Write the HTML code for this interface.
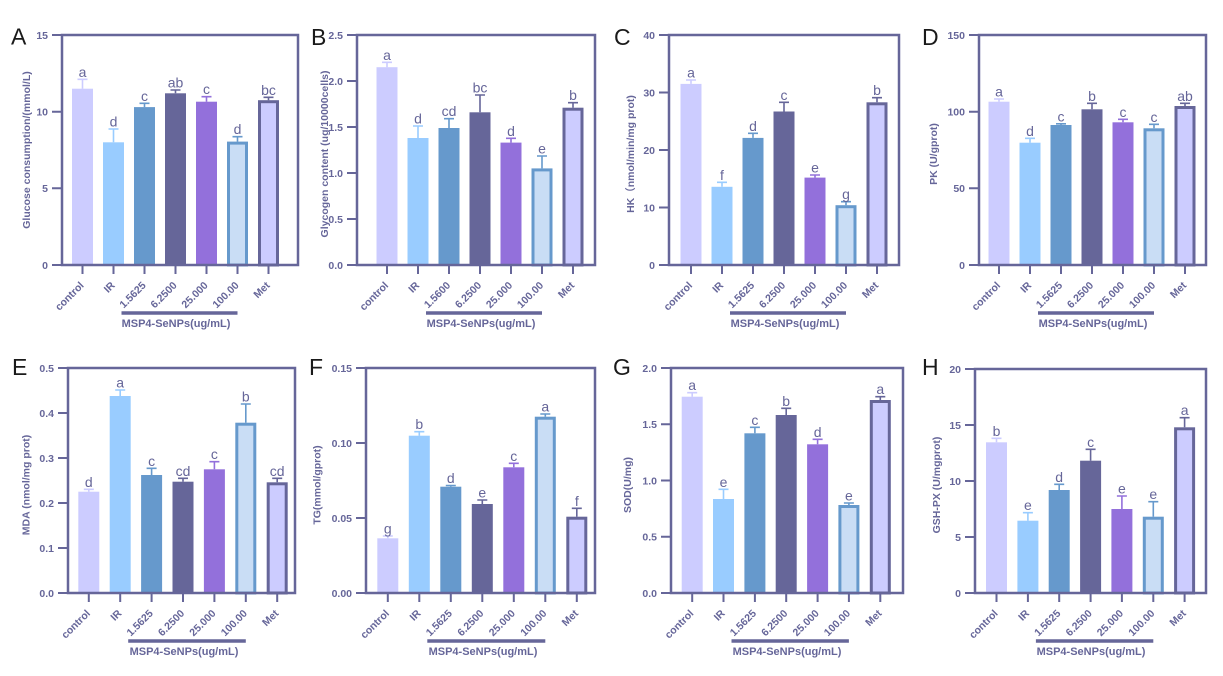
<!DOCTYPE html>
<html><head><meta charset="utf-8"><style>
html,body{margin:0;padding:0;background:#fff}
svg{display:block}
svg text{font-family:"Liberation Sans","Noto Sans CJK SC",Arial,sans-serif}
.ax{fill:none;stroke:#666699;stroke-width:2.5}
.tk{stroke:#666699;stroke-width:2;fill:none}
.tl{font-size:10.5px;font-weight:bold;fill:#666699;text-anchor:end}
.lt{font-size:14px;fill:#666699;text-anchor:middle}
.yl{font-size:10.5px;font-weight:bold;fill:#666699;text-anchor:middle}
.bt{font-size:11px;font-weight:bold;fill:#666699;text-anchor:middle}
.pl{font-size:23px;fill:#1a1a1a}
.br{stroke:#666699;stroke-width:3.5}
.e{fill:none;stroke-width:1.6}
.c0{fill:#ccccff}.c1{fill:#99ccff}.c2{fill:#6699cc}.c3{fill:#666699}.c4{fill:#9370db}
.b6{fill:#c9ddf5;stroke:#6699cc;stroke-width:3}
.b7{fill:#ccccff;stroke:#666699;stroke-width:3}
.s0{stroke:#ccccff}.s1{stroke:#99ccff}.s2{stroke:#6699cc}.s3{stroke:#666699}.s4{stroke:#9370db}
</style></head><body>
<svg width="1223" height="676" viewBox="0 0 1223 676" xmlns="http://www.w3.org/2000/svg">
<rect width="1223" height="676" fill="#fff"/>

<!-- ========== A ========== -->
<text class="pl" x="11" y="44.5">A</text>
<text class="yl" transform="translate(30,150) rotate(-90)">Glucose consumption/(mmol/L)</text>
<rect x="72" y="88.7" width="21" height="176.3" class="c0"/>
<rect x="103" y="142.3" width="21" height="122.7" class="c1"/>
<rect x="134" y="107.1" width="21" height="157.9" class="c2"/>
<rect x="165" y="93.3" width="21" height="171.7" class="c3"/>
<rect x="196" y="101.7" width="21" height="163.3" class="c4"/>
<rect x="228.5" y="143.1" width="18" height="121.9" class="b6"/>
<rect x="259.5" y="101.7" width="18" height="163.3" class="b7"/>
<path class="e s0" d="M82.5 88.7V79.3M77.5 79.3H87.5"/>
<path class="e s1" d="M113.5 142.3V129M108.5 129H118.5"/>
<path class="e s2" d="M144.5 107.1V103.3M139.5 103.3H149.5"/>
<path class="e s3" d="M175.5 93.3V90M170.5 90H180.5"/>
<path class="e s4" d="M206.5 101.7V96.7M201.5 96.7H211.5"/>
<path class="e s2" d="M237.5 141.6V136.7M232.5 136.7H242.5"/>
<path class="e s3" d="M268.5 100.2V97.3M263.5 97.3H273.5"/>
<text class="lt" x="82.5" y="76.8">a</text>
<text class="lt" x="113.5" y="126.5">d</text>
<text class="lt" x="144.5" y="100.8">c</text>
<text class="lt" x="175.5" y="87.5">ab</text>
<text class="lt" x="206.5" y="94.2">c</text>
<text class="lt" x="237.5" y="134.2">d</text>
<text class="lt" x="268.5" y="94.8">bc</text>
<rect class="ax" x="62" y="35" width="236" height="230"/>
<path class="tk" d="M52 265H62M52 188.3H62M52 111.7H62M52 35H62M82.5 265V274M113.5 265V274M144.5 265V274M175.5 265V274M206.5 265V274M237.5 265V274M268.5 265V274"/>
<text class="tl" x="48" y="268.8">0</text>
<text class="tl" x="48" y="192.1">5</text>
<text class="tl" x="48" y="115.5">10</text>
<text class="tl" x="48" y="38.8">15</text>
<text class="tl" transform="translate(84.5,286) rotate(-45)">control</text>
<text class="tl" transform="translate(115.5,286) rotate(-45)">IR</text>
<text class="tl" transform="translate(146.5,286) rotate(-45)">1.5625</text>
<text class="tl" transform="translate(177.5,286) rotate(-45)">6.2500</text>
<text class="tl" transform="translate(208.5,286) rotate(-45)">25.000</text>
<text class="tl" transform="translate(239.5,286) rotate(-45)">100.00</text>
<text class="tl" transform="translate(270.5,286) rotate(-45)">Met</text>
<line class="br" x1="121.5" y1="313" x2="237.5" y2="313"/>
<text class="bt" x="176" y="327">MSP4-SeNPs(ug/mL)</text>

<!-- ========== B ========== -->
<text class="pl" x="311" y="45">B</text>
<text class="yl" transform="translate(328,154) rotate(-90)">Glycogen content (ug/10000cells)</text>
<rect x="376.5" y="67.2" width="21" height="197.8" class="c0"/>
<rect x="407.5" y="138" width="21" height="127" class="c1"/>
<rect x="438.5" y="128" width="21" height="137" class="c2"/>
<rect x="469.5" y="112.3" width="21" height="152.7" class="c3"/>
<rect x="500.5" y="142.6" width="21" height="122.4" class="c4"/>
<rect x="533" y="169.9" width="18" height="95.1" class="b6"/>
<rect x="564" y="109.2" width="18" height="155.8" class="b7"/>
<path class="e s0" d="M387 67.2V62.3M382 62.3H392"/>
<path class="e s1" d="M418 138V126M413 126H423"/>
<path class="e s2" d="M449 128V118.7M444 118.7H454"/>
<path class="e s3" d="M480 112.3V95M475 95H485"/>
<path class="e s4" d="M511 142.6V138.3M506 138.3H516"/>
<path class="e s2" d="M542 168.4V156M537 156H547"/>
<path class="e s3" d="M573 107.7V102.7M568 102.7H578"/>
<text class="lt" x="387" y="59.8">a</text>
<text class="lt" x="418" y="123.5">d</text>
<text class="lt" x="449" y="116.2">cd</text>
<text class="lt" x="480" y="92.5">bc</text>
<text class="lt" x="511" y="135.8">d</text>
<text class="lt" x="542" y="153.5">e</text>
<text class="lt" x="573" y="100.2">b</text>
<rect class="ax" x="357" y="35" width="238" height="230"/>
<path class="tk" d="M347 265H357M347 219H357M347 173H357M347 127H357M347 81H357M347 35H357M387 265V274M418 265V274M449 265V274M480 265V274M511 265V274M542 265V274M573 265V274"/>
<text class="tl" x="343" y="268.8">0.0</text>
<text class="tl" x="343" y="222.8">0.5</text>
<text class="tl" x="343" y="176.8">1.0</text>
<text class="tl" x="343" y="130.8">1.5</text>
<text class="tl" x="343" y="84.8">2.0</text>
<text class="tl" x="343" y="38.8">2.5</text>
<text class="tl" transform="translate(389,286) rotate(-45)">control</text>
<text class="tl" transform="translate(420,286) rotate(-45)">IR</text>
<text class="tl" transform="translate(451,286) rotate(-45)">1.5600</text>
<text class="tl" transform="translate(482,286) rotate(-45)">6.2500</text>
<text class="tl" transform="translate(513,286) rotate(-45)">25.000</text>
<text class="tl" transform="translate(544,286) rotate(-45)">100.00</text>
<text class="tl" transform="translate(575,286) rotate(-45)">Met</text>
<line class="br" x1="426" y1="313" x2="542" y2="313"/>
<text class="bt" x="481" y="327">MSP4-SeNPs(ug/mL)</text>

<!-- ========== C ========== -->
<text class="pl" x="614" y="45">C</text>
<text class="yl" transform="translate(634,154) rotate(-90)">HK（nmol/min/mg prot)</text>
<rect x="680.5" y="83.9" width="21" height="181.1" class="c0"/>
<rect x="711.5" y="186.8" width="21" height="78.2" class="c1"/>
<rect x="742.5" y="137.9" width="21" height="127.1" class="c2"/>
<rect x="773.5" y="111.5" width="21" height="153.5" class="c3"/>
<rect x="804.5" y="177.6" width="21" height="87.4" class="c4"/>
<rect x="837" y="206.7" width="18" height="58.3" class="b6"/>
<rect x="868" y="103.8" width="18" height="161.2" class="b7"/>
<path class="e s0" d="M691 83.9V80M686 80H696"/>
<path class="e s1" d="M722 186.8V182.3M717 182.3H727"/>
<path class="e s2" d="M753 137.9V133.3M748 133.3H758"/>
<path class="e s3" d="M784 111.5V102.3M779 102.3H789"/>
<path class="e s4" d="M815 177.6V175M810 175H820"/>
<path class="e s2" d="M846 205.2V201.7M841 201.7H851"/>
<path class="e s3" d="M877 102.3V97.7M872 97.7H882"/>
<text class="lt" x="691" y="77.5">a</text>
<text class="lt" x="722" y="179.8">f</text>
<text class="lt" x="753" y="130.8">d</text>
<text class="lt" x="784" y="99.8">c</text>
<text class="lt" x="815" y="172.5">e</text>
<text class="lt" x="846" y="199.2">g</text>
<text class="lt" x="877" y="95.2">b</text>
<rect class="ax" x="669" y="35" width="230" height="230"/>
<path class="tk" d="M659 265H669M659 207.5H669M659 150H669M659 92.5H669M659 35H669M691 265V274M722 265V274M753 265V274M784 265V274M815 265V274M846 265V274M877 265V274"/>
<text class="tl" x="655" y="268.8">0</text>
<text class="tl" x="655" y="211.3">10</text>
<text class="tl" x="655" y="153.8">20</text>
<text class="tl" x="655" y="96.3">30</text>
<text class="tl" x="655" y="38.8">40</text>
<text class="tl" transform="translate(693,286) rotate(-45)">control</text>
<text class="tl" transform="translate(724,286) rotate(-45)">IR</text>
<text class="tl" transform="translate(755,286) rotate(-45)">1.5625</text>
<text class="tl" transform="translate(786,286) rotate(-45)">6.2500</text>
<text class="tl" transform="translate(817,286) rotate(-45)">25.000</text>
<text class="tl" transform="translate(848,286) rotate(-45)">100.00</text>
<text class="tl" transform="translate(879,286) rotate(-45)">Met</text>
<line class="br" x1="730" y1="313" x2="846" y2="313"/>
<text class="bt" x="785" y="327">MSP4-SeNPs(ug/mL)</text>

<!-- ========== D ========== -->
<text class="pl" x="922" y="45">D</text>
<text class="yl" transform="translate(937,154) rotate(-90)">PK (U/gprot)</text>
<rect x="988.5" y="101.7" width="21" height="163.3" class="c0"/>
<rect x="1019.5" y="142.7" width="21" height="122.3" class="c1"/>
<rect x="1050.5" y="125" width="21" height="140" class="c2"/>
<rect x="1081.5" y="109.3" width="21" height="155.7" class="c3"/>
<rect x="1112.5" y="122.3" width="21" height="142.7" class="c4"/>
<rect x="1145" y="129.8" width="18" height="135.2" class="b6"/>
<rect x="1176" y="107.5" width="18" height="157.5" class="b7"/>
<path class="e s0" d="M999 101.7V99M994 99H1004"/>
<path class="e s1" d="M1030 142.7V138.3M1025 138.3H1035"/>
<path class="e s2" d="M1061 125V123.8M1056 123.8H1066"/>
<path class="e s3" d="M1092 109.3V103.3M1087 103.3H1097"/>
<path class="e s4" d="M1123 122.3V119.3M1118 119.3H1128"/>
<path class="e s2" d="M1154 128.3V124.3M1149 124.3H1159"/>
<path class="e s3" d="M1185 106V103.3M1180 103.3H1190"/>
<text class="lt" x="999" y="96.5">a</text>
<text class="lt" x="1030" y="135.8">d</text>
<text class="lt" x="1061" y="121.3">c</text>
<text class="lt" x="1092" y="100.8">b</text>
<text class="lt" x="1123" y="116.8">c</text>
<text class="lt" x="1154" y="121.8">c</text>
<text class="lt" x="1185" y="100.8">ab</text>
<rect class="ax" x="979" y="35" width="227" height="230"/>
<path class="tk" d="M969 265H979M969 188.3H979M969 111.7H979M969 35H979M999 265V274M1030 265V274M1061 265V274M1092 265V274M1123 265V274M1154 265V274M1185 265V274"/>
<text class="tl" x="965" y="268.8">0</text>
<text class="tl" x="965" y="192.1">50</text>
<text class="tl" x="965" y="115.5">100</text>
<text class="tl" x="965" y="38.8">150</text>
<text class="tl" transform="translate(1001,286) rotate(-45)">control</text>
<text class="tl" transform="translate(1032,286) rotate(-45)">IR</text>
<text class="tl" transform="translate(1063,286) rotate(-45)">1.5625</text>
<text class="tl" transform="translate(1094,286) rotate(-45)">6.2500</text>
<text class="tl" transform="translate(1125,286) rotate(-45)">25.000</text>
<text class="tl" transform="translate(1156,286) rotate(-45)">100.00</text>
<text class="tl" transform="translate(1187,286) rotate(-45)">Met</text>
<line class="br" x1="1038" y1="313" x2="1154" y2="313"/>
<text class="bt" x="1093" y="327">MSP4-SeNPs(ug/mL)</text>

<!-- ========== E ========== -->
<text class="pl" x="12" y="375">E</text>
<text class="yl" transform="translate(29.5,485) rotate(-90)">MDA (nmol/mg prot)</text>
<rect x="78.3" y="491.7" width="21" height="101.3" class="c0"/>
<rect x="109.7" y="396" width="21" height="197" class="c1"/>
<rect x="141.1" y="475" width="21" height="118" class="c2"/>
<rect x="172.5" y="481.7" width="21" height="111.3" class="c3"/>
<rect x="203.9" y="469.3" width="21" height="123.7" class="c4"/>
<rect x="236.8" y="424.2" width="18" height="168.8" class="b6"/>
<rect x="268.2" y="483.8" width="18" height="109.2" class="b7"/>
<path class="e s0" d="M88.8 491.7V489.3M83.8 489.3H93.8"/>
<path class="e s1" d="M120.2 396V390M115.2 390H125.2"/>
<path class="e s2" d="M151.6 475V468.3M146.6 468.3H156.6"/>
<path class="e s3" d="M183 481.7V478.3M178 478.3H188"/>
<path class="e s4" d="M214.4 469.3V461.7M209.4 461.7H219.4"/>
<path class="e s2" d="M245.8 422.7V404M240.8 404H250.8"/>
<path class="e s3" d="M277.2 482.3V478.3M272.2 478.3H282.2"/>
<text class="lt" x="88.8" y="486.8">d</text>
<text class="lt" x="120.2" y="387.5">a</text>
<text class="lt" x="151.6" y="465.8">c</text>
<text class="lt" x="183" y="475.8">cd</text>
<text class="lt" x="214.4" y="459.2">c</text>
<text class="lt" x="245.8" y="401.5">b</text>
<text class="lt" x="277.2" y="475.8">cd</text>
<rect class="ax" x="68" y="368" width="227" height="225"/>
<path class="tk" d="M58 593H68M58 548H68M58 503H68M58 458H68M58 413H68M58 368H68M88.8 593V602M120.2 593V602M151.6 593V602M183 593V602M214.4 593V602M245.8 593V602M277.2 593V602"/>
<text class="tl" x="54" y="596.8">0.0</text>
<text class="tl" x="54" y="551.8">0.1</text>
<text class="tl" x="54" y="506.8">0.2</text>
<text class="tl" x="54" y="461.8">0.3</text>
<text class="tl" x="54" y="416.8">0.4</text>
<text class="tl" x="54" y="371.8">0.5</text>
<text class="tl" transform="translate(90.8,614) rotate(-45)">control</text>
<text class="tl" transform="translate(122.2,614) rotate(-45)">IR</text>
<text class="tl" transform="translate(153.6,614) rotate(-45)">1.5625</text>
<text class="tl" transform="translate(185,614) rotate(-45)">6.2500</text>
<text class="tl" transform="translate(216.4,614) rotate(-45)">25.000</text>
<text class="tl" transform="translate(247.8,614) rotate(-45)">100.00</text>
<text class="tl" transform="translate(279.2,614) rotate(-45)">Met</text>
<line class="br" x1="128.2" y1="641" x2="245.8" y2="641"/>
<text class="bt" x="184" y="655">MSP4-SeNPs(ug/mL)</text>

<!-- ========== F ========== -->
<text class="pl" x="309" y="375">F</text>
<text class="yl" transform="translate(320.5,485) rotate(-90)">TG(mmol/gprot)</text>
<rect x="377.3" y="538.3" width="21" height="54.7" class="c0"/>
<rect x="408.8" y="435.7" width="21" height="157.3" class="c1"/>
<rect x="440.3" y="486.7" width="21" height="106.3" class="c2"/>
<rect x="471.8" y="504" width="21" height="89" class="c3"/>
<rect x="503.3" y="467.3" width="21" height="125.7" class="c4"/>
<rect x="536.3" y="418.2" width="18" height="174.8" class="b6"/>
<rect x="567.8" y="518.2" width="18" height="74.8" class="b7"/>
<path class="e s0" d="M387.8 538.3V536M382.8 536H392.8"/>
<path class="e s1" d="M419.3 435.7V431.7M414.3 431.7H424.3"/>
<path class="e s2" d="M450.8 486.7V485.5M445.8 485.5H455.8"/>
<path class="e s3" d="M482.3 504V500M477.3 500H487.3"/>
<path class="e s4" d="M513.8 467.3V463.3M508.8 463.3H518.8"/>
<path class="e s2" d="M545.3 416.7V414M540.3 414H550.3"/>
<path class="e s3" d="M576.8 516.7V508.3M571.8 508.3H581.8"/>
<text class="lt" x="387.8" y="533.5">g</text>
<text class="lt" x="419.3" y="429.2">b</text>
<text class="lt" x="450.8" y="483">d</text>
<text class="lt" x="482.3" y="497.5">e</text>
<text class="lt" x="513.8" y="460.8">c</text>
<text class="lt" x="545.3" y="411.5">a</text>
<text class="lt" x="576.8" y="505.8">f</text>
<rect class="ax" x="366" y="368" width="229" height="225"/>
<path class="tk" d="M356 593H366M356 518H366M356 443H366M356 368H366M387.8 593V602M419.3 593V602M450.8 593V602M482.3 593V602M513.8 593V602M545.3 593V602M576.8 593V602"/>
<text class="tl" x="352" y="596.8">0.00</text>
<text class="tl" x="352" y="521.8">0.05</text>
<text class="tl" x="352" y="446.8">0.10</text>
<text class="tl" x="352" y="371.8">0.15</text>
<text class="tl" transform="translate(389.8,614) rotate(-45)">control</text>
<text class="tl" transform="translate(421.3,614) rotate(-45)">IR</text>
<text class="tl" transform="translate(452.8,614) rotate(-45)">1.5625</text>
<text class="tl" transform="translate(484.3,614) rotate(-45)">6.2500</text>
<text class="tl" transform="translate(515.8,614) rotate(-45)">25.000</text>
<text class="tl" transform="translate(547.3,614) rotate(-45)">100.00</text>
<text class="tl" transform="translate(578.8,614) rotate(-45)">Met</text>
<line class="br" x1="427.3" y1="641" x2="545.3" y2="641"/>
<text class="bt" x="483" y="655">MSP4-SeNPs(ug/mL)</text>

<!-- ========== G ========== -->
<text class="pl" x="613" y="375">G</text>
<text class="yl" transform="translate(631,485) rotate(-90)">SOD(U/mg)</text>
<rect x="681.7" y="396.7" width="21" height="196.3" class="c0"/>
<rect x="713" y="499" width="21" height="94" class="c1"/>
<rect x="744.4" y="433.3" width="21" height="159.7" class="c2"/>
<rect x="775.7" y="415" width="21" height="178" class="c3"/>
<rect x="807.1" y="444.3" width="21" height="148.7" class="c4"/>
<rect x="839.9" y="506.5" width="18" height="86.5" class="b6"/>
<rect x="871.3" y="401.5" width="18" height="191.5" class="b7"/>
<path class="e s0" d="M692.2 396.7V392.7M687.2 392.7H697.2"/>
<path class="e s1" d="M723.5 499V489.3M718.5 489.3H728.5"/>
<path class="e s2" d="M754.9 433.3V427.3M749.9 427.3H759.9"/>
<path class="e s3" d="M786.2 415V408.3M781.2 408.3H791.2"/>
<path class="e s4" d="M817.6 444.3V439.3M812.6 439.3H822.6"/>
<path class="e s2" d="M848.9 505V503M843.9 503H853.9"/>
<path class="e s3" d="M880.3 400V396.7M875.3 396.7H885.3"/>
<text class="lt" x="692.2" y="390.2">a</text>
<text class="lt" x="723.5" y="486.8">e</text>
<text class="lt" x="754.9" y="424.8">c</text>
<text class="lt" x="786.2" y="405.8">b</text>
<text class="lt" x="817.6" y="436.8">d</text>
<text class="lt" x="848.9" y="500.5">e</text>
<text class="lt" x="880.3" y="394.2">a</text>
<rect class="ax" x="671" y="368" width="232" height="225"/>
<path class="tk" d="M661 593H671M661 536.75H671M661 480.5H671M661 424.25H671M661 368H671M692.2 593V602M723.5 593V602M754.9 593V602M786.2 593V602M817.6 593V602M848.9 593V602M880.3 593V602"/>
<text class="tl" x="657" y="596.8">0.0</text>
<text class="tl" x="657" y="540.5">0.5</text>
<text class="tl" x="657" y="484.3">1.0</text>
<text class="tl" x="657" y="428">1.5</text>
<text class="tl" x="657" y="371.8">2.0</text>
<text class="tl" transform="translate(694.2,614) rotate(-45)">control</text>
<text class="tl" transform="translate(725.5,614) rotate(-45)">IR</text>
<text class="tl" transform="translate(756.9,614) rotate(-45)">1.5625</text>
<text class="tl" transform="translate(788.2,614) rotate(-45)">6.2500</text>
<text class="tl" transform="translate(819.6,614) rotate(-45)">25.000</text>
<text class="tl" transform="translate(850.9,614) rotate(-45)">100.00</text>
<text class="tl" transform="translate(882.3,614) rotate(-45)">Met</text>
<line class="br" x1="731.5" y1="641" x2="848.9" y2="641"/>
<text class="bt" x="787" y="655">MSP4-SeNPs(ug/mL)</text>

<!-- ========== H ========== -->
<text class="pl" x="922" y="375">H</text>
<text class="yl" transform="translate(940,485) rotate(-90)">GSH-PX (U/mgprot)</text>
<rect x="986" y="442.3" width="21" height="150.7" class="c0"/>
<rect x="1017.4" y="520.7" width="21" height="72.3" class="c1"/>
<rect x="1048.7" y="490" width="21" height="103" class="c2"/>
<rect x="1080.1" y="460.7" width="21" height="132.3" class="c3"/>
<rect x="1111.4" y="509" width="21" height="84" class="c4"/>
<rect x="1144.3" y="518.2" width="18" height="74.8" class="b6"/>
<rect x="1175.6" y="428.8" width="18" height="164.2" class="b7"/>
<path class="e s0" d="M996.5 442.3V438.3M991.5 438.3H1001.5"/>
<path class="e s1" d="M1027.9 520.7V512.7M1022.9 512.7H1032.9"/>
<path class="e s2" d="M1059.2 490V484.3M1054.2 484.3H1064.2"/>
<path class="e s3" d="M1090.6 460.7V449.3M1085.6 449.3H1095.6"/>
<path class="e s4" d="M1121.9 509V496M1116.9 496H1126.9"/>
<path class="e s2" d="M1153.3 516.7V501.7M1148.3 501.7H1158.3"/>
<path class="e s3" d="M1184.6 427.3V417.7M1179.6 417.7H1189.6"/>
<text class="lt" x="996.5" y="435.8">b</text>
<text class="lt" x="1027.9" y="510.2">e</text>
<text class="lt" x="1059.2" y="481.8">d</text>
<text class="lt" x="1090.6" y="446.8">c</text>
<text class="lt" x="1121.9" y="493.5">e</text>
<text class="lt" x="1153.3" y="499.2">e</text>
<text class="lt" x="1184.6" y="415.2">a</text>
<rect class="ax" x="975" y="369" width="231" height="224"/>
<path class="tk" d="M965 593H975M965 537H975M965 481H975M965 425H975M965 369H975M996.5 593V602M1027.9 593V602M1059.2 593V602M1090.6 593V602M1121.9 593V602M1153.3 593V602M1184.6 593V602"/>
<text class="tl" x="961" y="596.8">0</text>
<text class="tl" x="961" y="540.8">5</text>
<text class="tl" x="961" y="484.8">10</text>
<text class="tl" x="961" y="428.8">15</text>
<text class="tl" x="961" y="372.8">20</text>
<text class="tl" transform="translate(998.5,614) rotate(-45)">control</text>
<text class="tl" transform="translate(1029.9,614) rotate(-45)">IR</text>
<text class="tl" transform="translate(1061.2,614) rotate(-45)">1.5625</text>
<text class="tl" transform="translate(1092.6,614) rotate(-45)">6.2500</text>
<text class="tl" transform="translate(1123.9,614) rotate(-45)">25.000</text>
<text class="tl" transform="translate(1155.3,614) rotate(-45)">100.00</text>
<text class="tl" transform="translate(1186.6,614) rotate(-45)">Met</text>
<line class="br" x1="1035.9" y1="641" x2="1153.3" y2="641"/>
<text class="bt" x="1091" y="655">MSP4-SeNPs(ug/mL)</text>
</svg>
</body></html>
